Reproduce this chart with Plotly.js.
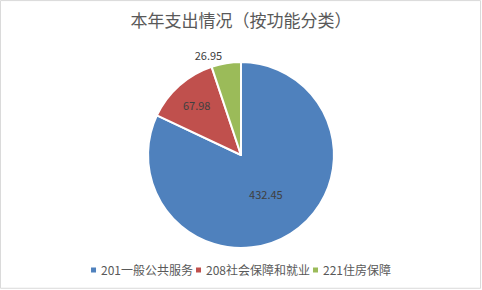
<!DOCTYPE html>
<html>
<head>
<meta charset="utf-8">
<script src="https://cdn.plot.ly/plotly-3.0.1.min.js"></script>
<style>
html,body{margin:0;padding:0;background:#fff;}
#chart{width:482px;height:290px;}
</style>
</head>
<body>
<div id="chart"></div>
<script>
var categories = ['201一般公共服务', '208社会保障和就业', '221住房保障'];
var values = [432.45, 67.98, 26.95];
var colors = ['#4F81BD', '#C0504D', '#9BBB59'];
var textPositions = ['inside', 'inside', 'outside'];

var font = '"Microsoft YaHei", "Noto Sans CJK SC", sans-serif';

var data = [{
  type: 'pie',
  labels: categories,
  values: values,
  sort: false,
  direction: 'clockwise',
  rotation: 0,
  marker: {colors: colors, line: {color: '#ffffff', width: 2}},
  textinfo: 'value',
  texttemplate: '%{value:.2f}',
  textposition: textPositions,
  insidetextorientation: 'horizontal',
  textfont: {family: font, size: 11, color: '#404040'},
  outsidetextfont: {family: font, size: 11, color: '#404040'},
  insidetextfont: {family: font, size: 11, color: '#404040'},
  hoverinfo: 'label+value',
  domain: {x: [0.307, 0.693], y: [0.145, 0.786]}
}];

var layout = {
  width: 482,
  height: 290,
  margin: {l: 0, r: 0, t: 0, b: 0},
  paper_bgcolor: '#ffffff',
  title: {
    text: '本年支出情况（按功能分类）',
    font: {family: font, size: 17, color: '#595959'},
    x: 0.5, xanchor: 'center',
    y: 0.927, yanchor: 'middle'
  },
  showlegend: true,
  legend: {
    orientation: 'h',
    x: 0.5, xanchor: 'center',
    y: 0.069, yanchor: 'middle',
    bgcolor: 'rgba(0,0,0,0)',
    font: {family: font, size: 12, color: '#595959'},
    itemwidth: 30,
    traceorder: 'normal'
  },
  shapes: [{
    type: 'rect', xref: 'paper', yref: 'paper',
    x0: 0.001, x1: 0.997, y0: 0.006, y1: 0.998,
    line: {color: '#D9D9D9', width: 1}, fillcolor: 'rgba(0,0,0,0)'
  }]
};

var gd = document.getElementById('chart');
Plotly.newPlot(gd, data, layout, {displayModeBar: false, staticPlot: true}).then(function () {
  // compact Excel-like legend: small squares, text right next to them
  var legend = gd.querySelector('.legend');
  if (!legend) return;
  var lt = legend.getAttribute('transform') || '';
  var m = /translate\(([-\d.]+)[ ,]+([-\d.]+)\)/.exec(lt);
  var lx = m ? parseFloat(m[1]) : 0;
  var items = legend.querySelectorAll('.traces');
  var sq = 5, textGap = 5, itemGap = 3;
  var widths = [];
  var total = 0;
  items.forEach(function (it) {
    var t = it.querySelector('text.legendtext');
    var w = t ? t.getComputedTextLength() : 0;
    widths.push(w);
    total += sq + textGap + w;
  });
  total += itemGap * (items.length - 1);
  var cx = 482 / 2;
  var x = cx - total / 2;
  items.forEach(function (it, i) {
    var tr = it.getAttribute('transform') || '';
    var mm = /translate\(([-\d.]+)[ ,]+([-\d.]+)\)/.exec(tr);
    var ty = mm ? parseFloat(mm[2]) : 0;
    it.setAttribute('transform', 'translate(' + (x - lx) + ',' + ty + ')');
    var p = it.querySelector('.legendpoints path');
    if (p) {
      p.setAttribute('d', 'M2.5,2.5H-2.5V-2.5H2.5Z');
      p.setAttribute('transform', 'translate(' + (sq / 2) + ',0)');
      p.style.strokeWidth = '0px';
    }
    var t = it.querySelector('text.legendtext');
    if (t) {
      t.setAttribute('x', sq + textGap);
      t.querySelectorAll('tspan').forEach(function (s) { if (s.hasAttribute('x')) s.setAttribute('x', sq + textGap); });
    }
    x += sq + textGap + widths[i] + itemGap;
  });
});
</script>
</body>
</html>
